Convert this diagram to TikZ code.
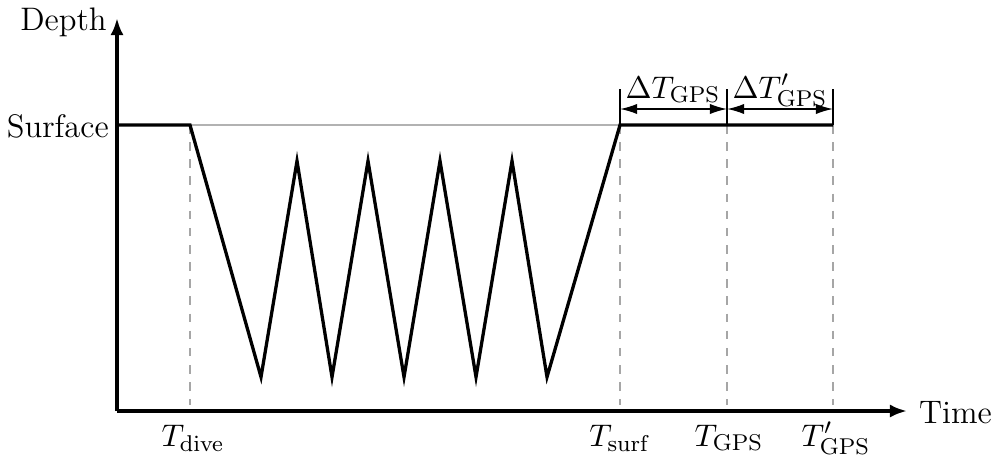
\documentclass[tikz,border=0pt]{standalone}
\usetikzlibrary{arrows.meta}
\begin{document}
\begin{tikzpicture}[x=0.35pt,y=-0.35pt,
  font=\fontsize{11.4}{13.7}\selectfont,
  axis/.style={line width=1.2pt,-{Latex[length=6pt,width=4.6pt]}},
  profile/.style={line width=1.15pt,line join=miter},
  guide/.style={gray!70,line width=0.55pt,dash pattern=on 3pt off 3pt},
  thinref/.style={gray!60,line width=0.4pt},
  tick/.style={black,line width=0.4pt},
  dim/.style={line width=0.55pt,{Latex[length=6pt,width=3.6pt]}-{Latex[length=6pt,width=3.6pt]}},
  lbl/.style={inner sep=0pt,anchor=base}]
\useasboundingbox (0,0) rectangle (995,461);
% coordinates
\coordinate (O) at (117,411);
\coordinate (ytop) at (117,18);
\coordinate (xend) at (907,411);
\coordinate (s0) at (117,125);
\coordinate (d) at (190,125);
\coordinate (b1) at (261,377);
\coordinate (p1) at (297,161);
\coordinate (b2) at (332,377);
\coordinate (p2) at (368,161);
\coordinate (b3) at (404,377);
\coordinate (p3) at (440,161);
\coordinate (b4) at (476,377);
\coordinate (p4) at (512,161);
\coordinate (b5) at (547,377);
\coordinate (s) at (620,125);
\coordinate (g) at (727,125);
\coordinate (g2) at (833,125);
\coordinate (dA) at (190,405);
\coordinate (sA) at (620,405);
\coordinate (gA) at (727,405);
\coordinate (g2A) at (833,405);
\coordinate (sT) at (620,89);
\coordinate (gT) at (727,89);
\coordinate (g2T) at (833,89);
\coordinate (sM) at (620,109);
\coordinate (gM) at (727,109);
\coordinate (g2M) at (833,109);
% guides
\draw[thinref] (d) -- (s);
\draw[guide] (d) -- (dA);
\draw[guide] (s) -- (sA);
\draw[guide] (g) -- (gA);
\draw[guide] (g2) -- (g2A);
\draw[tick] (sT) -- (s);
\draw[tick] (gT) -- (g);
\draw[tick] (g2T) -- (g2);
% axes
\draw[axis] (O) -- (ytop);
\draw[axis] (O) -- (xend);
% profile
\draw[profile] (s0) -- (d) -- (b1) -- (p1) -- (b2) -- (p2) -- (b3) -- (p3) -- (b4) -- (p4) -- (b5) -- (s) -- (g2);
% dimension arrows
\draw[dim] (sM) -- (gM);
\draw[dim] (gM) -- (g2M);
% labels
\node[anchor=east,inner sep=2pt] (depth) at (113,22) {Depth};
\node[anchor=east,inner sep=2pt] (surface) at (115,126) {Surface};
\node[anchor=west,inner sep=3pt] (time) at (910,413) {Time};
\node[lbl] (tdive) at (193,446) {$T_{\mathrm{dive}}$};
\node[lbl] (tsurf) at (620,446) {$T_{\mathrm{surf}}$};
\node[lbl] (tgps) at (729,446) {$T_{\mathrm{GPS}}$};
\node[lbl] (tgps2) at (836,446) {$T'_{\mathrm{GPS}}$};
\node[lbl] (dtgps) at (673,98) {$\Delta T_{\mathrm{GPS}}$};
\node[lbl] (dtgps2) at (780,98) {$\Delta T'_{\mathrm{GPS}}$};
\end{tikzpicture}
\end{document}
